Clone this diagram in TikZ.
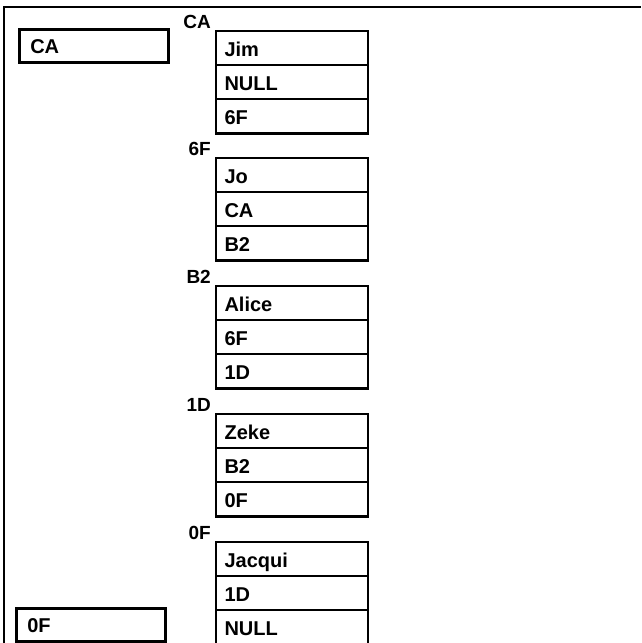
\documentclass[tikz,border=0pt]{standalone}
\usepackage{fontspec}
\setmainfont{Liberation Sans}
\usetikzlibrary{positioning}
\tikzset{
  field/.style={
    draw=black,
    rectangle,
    line width=1.1pt,
    minimum width=151pt,
    minimum height=33pt,
    text width=135pt,
    text height=17pt,
    text depth=0pt,
    inner xsep=8pt,
    inner ysep=0pt,
    align=left,
    font=\fontsize{20}{22}\selectfont\bfseries
  },
  recframe/.style={draw=black,line width=2.6pt},
  pointer/.style={
    draw=black,
    rectangle,
    line width=2.6pt,
    minimum width=149pt,
    minimum height=33pt,
    text width=127pt,
    text height=16pt,
    text depth=0pt,
    inner xsep=11pt,
    inner ysep=0pt,
    align=left,
    font=\fontsize{20}{22}\selectfont\bfseries
  },
  addr/.style={font=\fontsize{19}{21}\selectfont\bfseries,inner sep=0pt}
}
\newcommand{\listrecord}[5]{%
  \node[field,anchor=north west] (rec#1data) at (216,#2) {#3};
  \node[field,below=0pt of rec#1data] (rec#1prev) {#4};
  \node[field,below=0pt of rec#1prev] (rec#1next) {#5};
  \draw[recframe] (rec#1data.north west) rectangle (rec#1next.south east);
  \node[addr,anchor=base east] (rec#1addr)
    at ([xshift=-5pt,yshift=3pt]rec#1data.north west) {#1};
}

\begin{document}
\begin{tikzpicture}[x=1pt,y=-1pt]
  \fill[white] (0,0) rectangle (641,643);
  \useasboundingbox (0,0) rectangle (641,643);

  % window edges
  \draw[line width=2pt] (4,643) -- (4,7) -- (641,7);

  % head and tail pointers
  \node[pointer,anchor=north west] (head) at (18,28) {CA};
  \node[pointer,anchor=north west] (tail) at (15,607) {0F};

  % doubly linked records: data, previous, next
  \listrecord{CA}{31}{Jim}{NULL}{6F}
  \listrecord{6F}{158}{Jo}{CA}{B2}
  \listrecord{B2}{286}{Alice}{6F}{1D}
  \listrecord{1D}{414}{Zeke}{B2}{0F}
  \listrecord{0F}{542}{Jacqui}{1D}{NULL}
\end{tikzpicture}
\end{document}
